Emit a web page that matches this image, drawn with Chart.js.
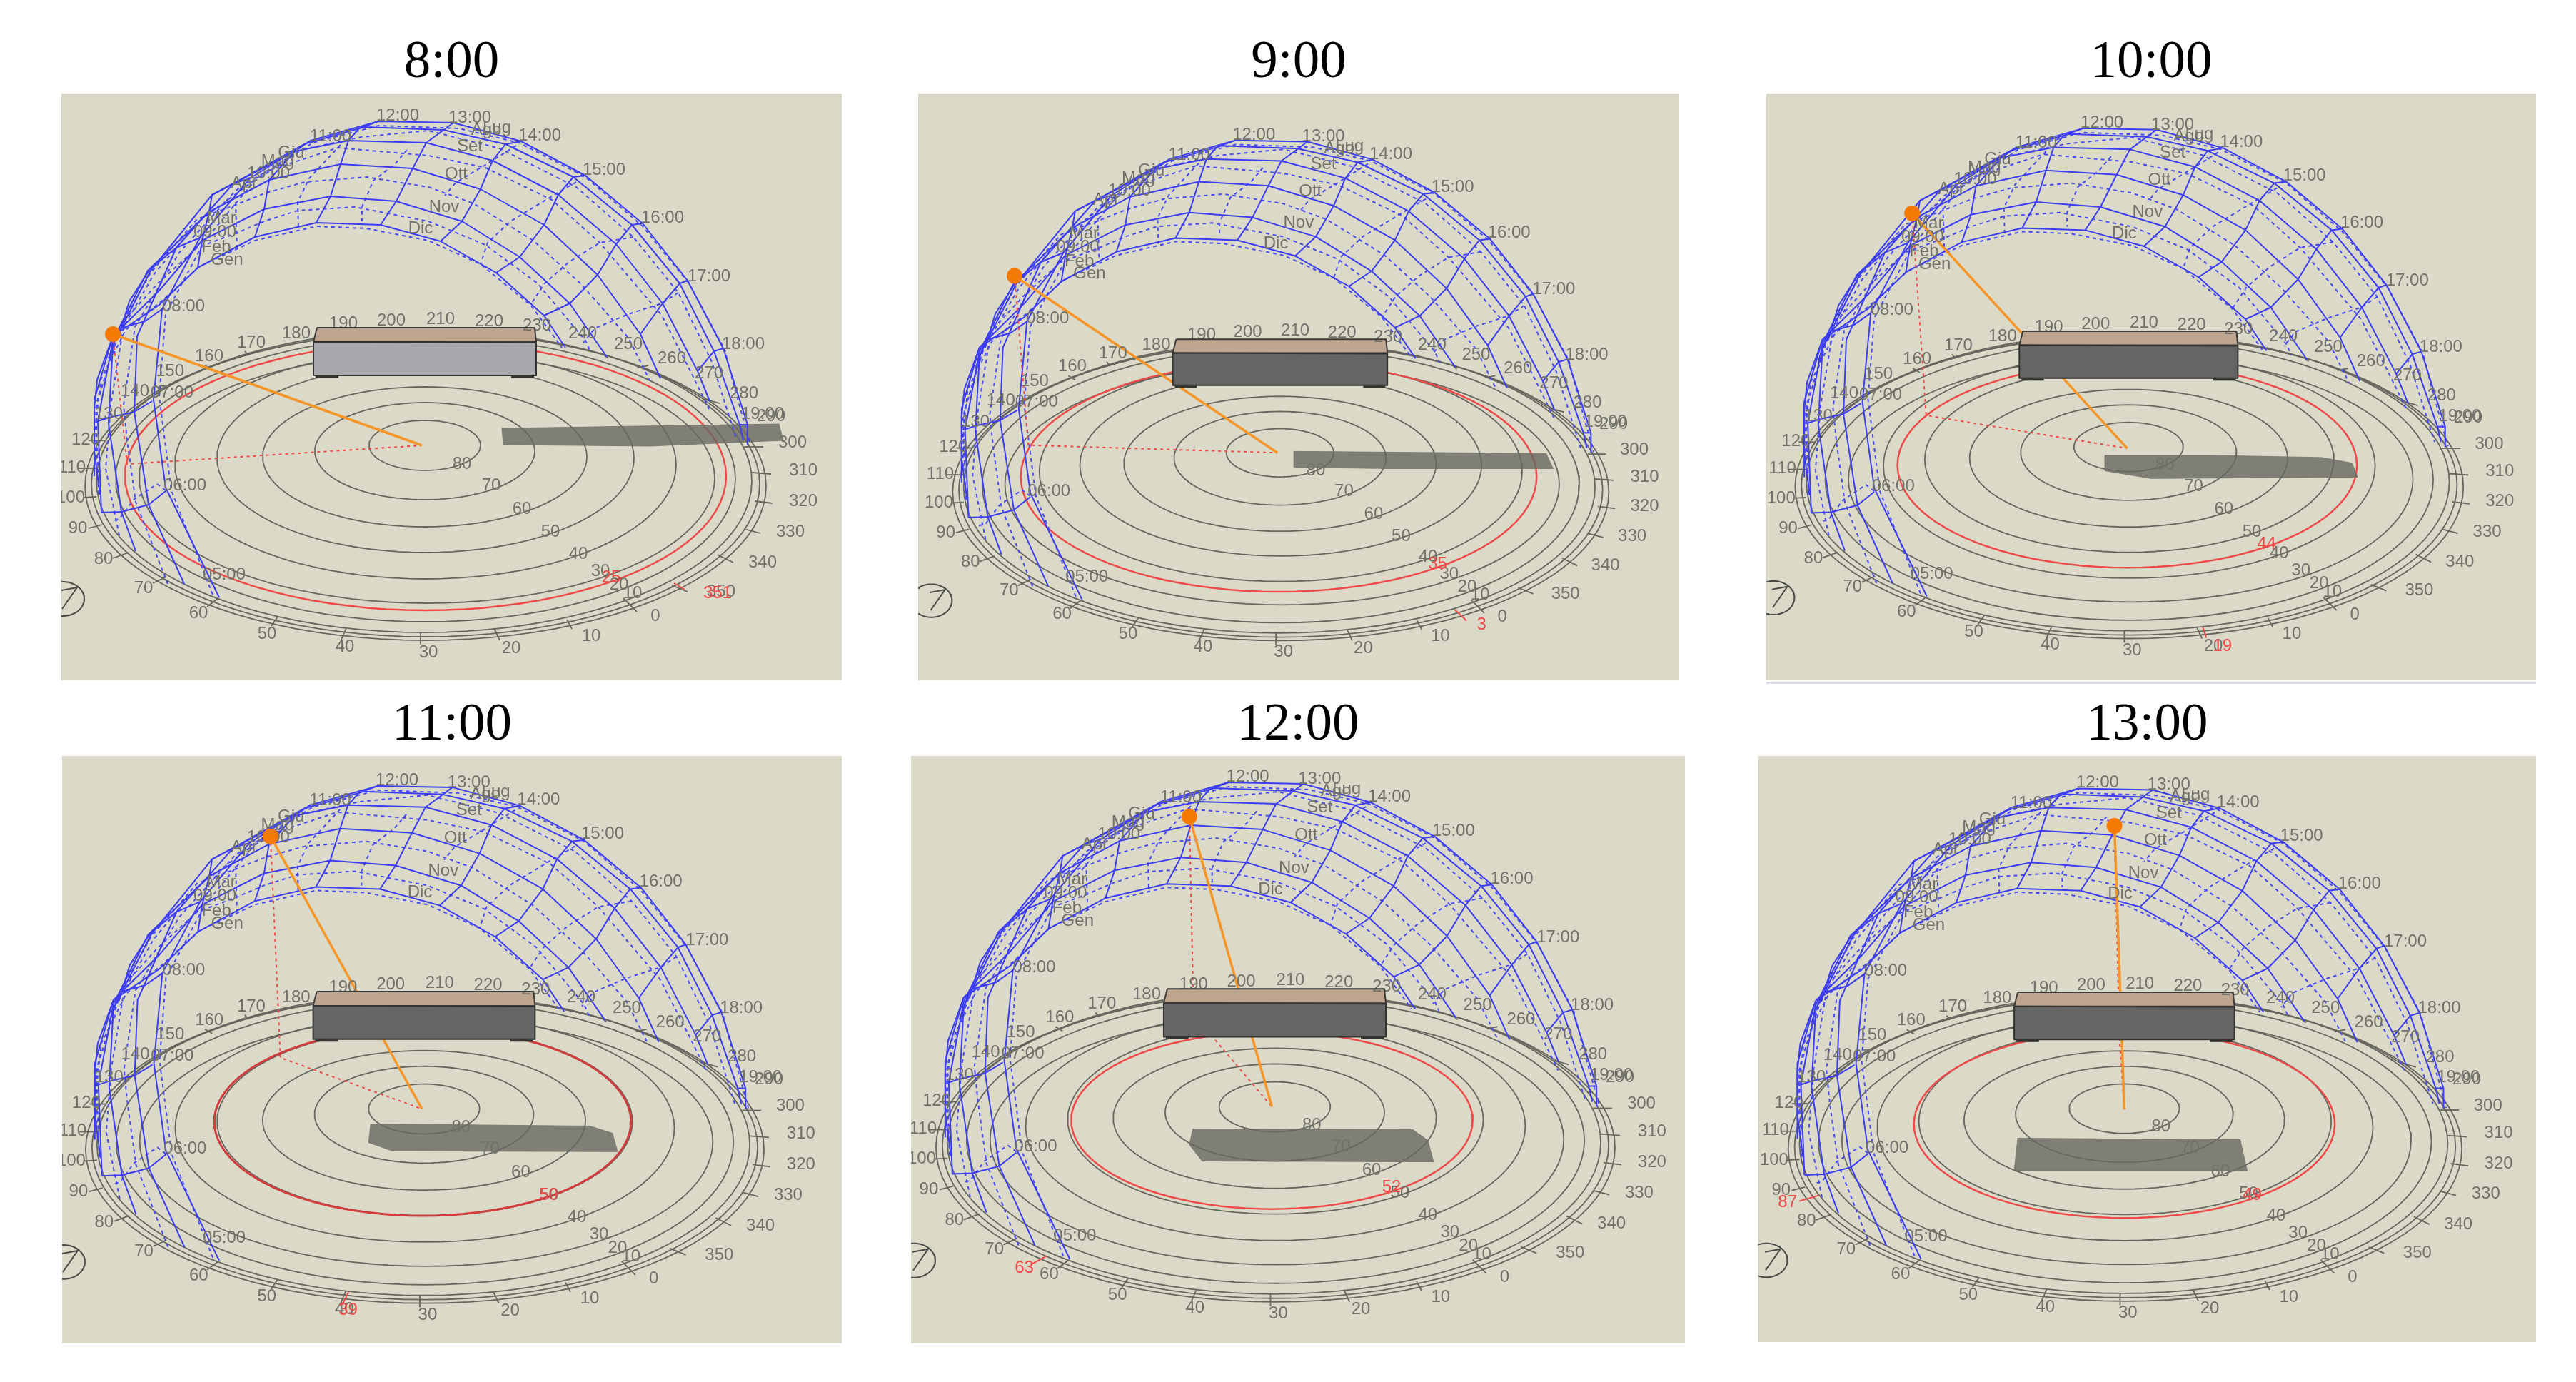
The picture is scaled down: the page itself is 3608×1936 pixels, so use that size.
<!DOCTYPE html>
<html>
<head>
<meta charset="utf-8">
<title>Sun path 8:00 - 13:00</title>
<script src="https://cdn.jsdelivr.net/npm/chart.js@4/dist/chart.umd.min.js"></script>
<style>
  html, body { margin: 0; padding: 0; background: #fff; }
  body { position: relative; width: 3608px; height: 1936px; overflow: hidden; }
  canvas { position: absolute; filter: blur(0.6px); }
  #edge { position: absolute; left: 2474px; top: 955px; width: 1078px; height: 3px; background: #dcdce2; }
</style>
</head>
<body>
<div id="edge"></div>
<script>
// one panel per hour
const hours = ['8:00', '9:00', '10:00', '11:00', '12:00', '13:00'];

const elevationLabels = ['25', '35', '44', '50', '52', '49'];
const azimuthLabels = ['351', '3', '19', '39', '63', '87'];

// sun, its foot on the ground and the shared centre, diagram units
const sunX = [72, 123, 200, 293, 389, 495];
const sunY = [336, 235, 159, 109, 86, 91];
const footX = [92, 143, 220, 307, 395, 502];
const footY = [518, 481, 447, 420, 363, 391];
const originX = [505, 505, 507, 506, 505, 509];
const originY = [492, 492, 494, 492, 492, 493];

// red circle of the current elevation
const redCx = [510, 507, 507, 507, 505, 509];
const redCy = [535, 527, 518, 510, 511, 514];
const redRx = [421, 375, 328, 293, 282, 298];
const redRy = [188, 167, 146, 132, 124, 133];

// where the red readings sit
const elevationLabelX = [770, 738, 706, 684, 673, 690];
const elevationLabelY = [677, 654, 631, 613, 605, 615];
const azimuthLabelX = [919, 802, 643, 402, 157, 32];
const azimuthLabelY = [699, 742, 776, 775, 718, 625];
const azimuthTickA = [[858, 685], [763, 720], [615, 749], [403, 749], [188, 701], [76, 615]];
const azimuthTickB = [[873, 694], [780, 736], [620, 764], [394, 767], [166, 713], [49, 623]];

// building shadow for each hour
const shadows = [
  [[617, 468], [1005, 462], [1011, 485], [824, 493], [619, 491]],
  [[529, 490], [896, 493], [906, 515], [664, 515], [529, 513]],
  [[475, 504], [627, 504], [785, 507], [828, 515], [836, 535], [541, 537], [475, 526]],
  [[434, 513], [742, 516], [774, 526], [781, 552], [464, 551], [431, 539]],
  [[394, 523], [703, 524], [724, 539], [732, 569], [407, 568], [389, 545]],
  [[358, 534], [673, 536], [683, 580], [353, 580]]
];

// building
const roof = [[358, 327], [663, 327], [665, 347], [353, 347]];
const front = [[353, 347], [665, 348], [665, 394], [353, 394]];
const buildingFeet = [[[356, 396], [388, 396]], [[630, 396], [662, 396]]];

// elevation circles on the ground
const ringLabels = ['80', '70', '60', '50', '40', '30', '20', '10'];
const ringLabelX = [561, 602, 645, 685, 724, 755, 781, 800];
const ringLabelY = [518, 548, 581, 613, 644, 668, 687, 699];
const ringCx = [509, 509, 509, 510, 510, 512, 510, 508, 510, 510];
const ringCy = [492, 500, 508, 510, 519, 538, 539, 542, 546, 549];
const ringRx = [78, 154, 227, 292, 351, 403, 434, 459, 468, 477];
const ringRy = [35, 68, 98, 132, 160, 175, 200, 212, 214, 216];

// azimuth scale round the rim
const azimuths = [0, 10, 20, 30, 40, 50, 60, 70, 80, 90, 100, 110, 120, 130, 140, 150, 160, 170,
  180, 190, 200, 210, 220, 230, 240, 250, 260, 270, 280, 290, 300, 310, 320, 330, 340, 350];
const azimuthX = [832, 742, 630, 514, 397, 288, 192, 115, 59, 23, 13, 15, 34, 66, 103, 152, 207, 266,
  329, 395, 462, 531, 599, 666, 730, 794, 855, 907, 956, 994, 1024, 1039, 1039, 1021, 982, 924];
const azimuthY = [731, 759, 776, 782, 774, 756, 727, 692, 651, 608, 565, 523, 484, 448, 416, 388, 367, 348,
  335, 321, 317, 315, 318, 324, 335, 350, 370, 391, 419, 451, 488, 527, 570, 613, 656, 697];
const rimTicks = [
  [[787, 706], [806, 725]], [[708, 736], [715, 749]], [[606, 748], [614, 765]], [[503, 754], [503, 770]],
  [[399, 748], [392, 764]], [[303, 732], [294, 745]], [[220, 706], [204, 718]], [[147, 676], [128, 685]],
  [[94, 642], [72, 650]], [[57, 603], [38, 608]], [[49, 564], [30, 565]], [[49, 524], [23, 524]],
  [[61, 485], [38, 485]], [[956, 494], [983, 494]], [[967, 530], [994, 532]], [[971, 570], [996, 573]],
  [[956, 609], [979, 615]], [[919, 645], [941, 656]], [[855, 688], [877, 697]],
  [[154, 406], [164, 400]], [[201, 380], [211, 386]], [[257, 360], [262, 366]],
  [[761, 366], [766, 370]], [[807, 383], [822, 380]], [[900, 427], [922, 433]]
];

// sun path, month curves (solid)
const monthCurves = [
  [[221, 705], [146, 551], [129, 428], [141, 301], [194, 201], [264, 118], [349, 65], [444, 38], [549, 40], [644, 66], [734, 114], [814, 181], [877, 261], [927, 356], [961, 463], [961, 491]],
  [[172, 686], [122, 575], [102, 445], [106, 339], [161, 215], [241, 125], [340, 70], [424, 46], [535, 50], [622, 70], [717, 116], [799, 183], [866, 265], [914, 360], [950, 463], [955, 485]],
  [[104, 640], [84, 585], [66, 461], [72, 351], [125, 247], [211, 141], [327, 80], [402, 65], [511, 68], [604, 93], [696, 141], [777, 210], [842, 293], [891, 388], [908, 430]],
  [[56, 586], [51, 458], [72, 345], [121, 247], [207, 165], [291, 120], [391, 98], [492, 104], [587, 133], [676, 183], [751, 253], [811, 336], [839, 398]],
  [[54, 561], [46, 500], [46, 428], [72, 339], [137, 275], [197, 205], [284, 161], [377, 143], [469, 150], [561, 178], [642, 228], [712, 293], [764, 368]],
  [[46, 535], [46, 440], [50, 400], [72, 339], [137, 295], [191, 243], [271, 200], [357, 180], [447, 183], [531, 206], [609, 250], [676, 310], [706, 355]]
];

// sun path, hour lines (solid)
const hourCurves = [
  [[146, 556], [122, 575], [84, 585], [56, 586]],
  [[127, 430], [102, 445], [66, 453], [51, 458]],
  [[141, 301], [117, 318], [81, 328], [66, 370]],
  [[194, 201], [161, 215], [124, 245], [95, 290], [80, 340]],
  [[264, 118], [241, 125], [211, 141], [207, 165], [197, 205], [191, 243]],
  [[349, 65], [327, 80], [291, 120], [284, 161], [271, 200]],
  [[444, 38], [417, 48], [402, 65], [391, 98], [377, 143], [357, 180]],
  [[549, 40], [511, 68], [492, 104], [469, 150], [447, 183]],
  [[644, 66], [622, 70], [604, 93], [587, 133], [561, 178], [531, 206]],
  [[734, 114], [717, 116], [696, 141], [676, 183], [642, 228], [609, 250]],
  [[814, 181], [799, 183], [777, 210], [751, 253], [712, 293], [676, 310]],
  [[877, 261], [866, 265], [842, 293], [811, 336]],
  [[927, 356], [914, 360], [891, 388]],
  [[961, 463], [950, 463]]
];

// second half of the year (dotted)
const dottedMonths = [
  [[212, 701], [154, 555], [137, 424], [146, 308], [201, 205], [270, 122], [352, 68], [444, 44], [557, 48], [641, 68], [734, 116], [814, 185], [879, 265], [929, 358], [941, 405], [965, 491]],
  [[149, 686], [104, 571], [92, 485], [87, 436], [103, 326], [165, 222], [244, 135], [335, 78], [420, 60], [514, 51], [614, 76], [721, 130], [801, 200], [864, 278], [911, 375], [946, 485]],
  [[81, 618], [62, 525], [69, 436], [87, 326], [129, 253], [190, 180], [287, 108], [387, 75], [514, 86], [594, 103], [687, 148], [754, 208], [841, 310], [881, 388], [907, 441]],
  [[52, 560], [48, 440], [80, 330], [125, 250], [190, 175], [244, 155], [287, 138], [341, 123], [427, 116], [514, 130], [577, 153], [661, 205], [727, 265], [794, 341], [824, 401]],
  [[48, 500], [50, 430], [85, 320], [135, 265], [190, 215], [244, 195], [284, 178], [331, 163], [411, 158], [514, 178], [594, 211], [667, 265], [734, 345], [741, 361]],
  [[46, 480], [55, 400], [90, 330], [140, 290], [194, 241], [271, 205], [357, 185], [427, 188], [514, 205], [587, 238], [657, 295], [691, 341], [701, 355]]
];
const dottedHours = [
  [[146, 555], [134, 546], [101, 568], [81, 595], [71, 598]],
  [[244, 151], [246, 215]],
  [[391, 71], [347, 118], [331, 151], [332, 188]],
  [[484, 78], [467, 98], [437, 121], [421, 158], [421, 178]],
  [[637, 72], [594, 99], [552, 124], [537, 142]],
  [[721, 123], [687, 143], [629, 178], [597, 208], [587, 238]],
  [[801, 200], [754, 208], [711, 235], [677, 265], [657, 295]],
  [[864, 278], [841, 293], [794, 308], [747, 328], [731, 348]]
];

// labels on the dome
const clockLabels = ['05:00', '06:00', '07:00', '08:00', '09:00', '10:00', '11:00', '12:00', '13:00', '14:00', '15:00', '16:00', '17:00', '18:00', '19:00'];
const clockX = [228, 173, 155, 171, 215, 290, 377, 471, 572, 670, 760, 842, 907, 955, 982];
const clockY = [673, 548, 418, 297, 193, 111, 59, 30, 33, 58, 106, 173, 255, 350, 448];
const monthLabels = ['Gen', 'Feb', 'Mar', 'Apr', 'Mag', 'Giu', 'Lug', 'Ago', 'Set', 'Ott', 'Nov', 'Dic'];
const monthX = [232, 217, 224, 256, 303, 322, 610, 595, 572, 553, 536, 503];
const monthY = [232, 214, 174, 125, 94, 82, 47, 50, 73, 112, 158, 188];

// compass on the lower left
const compassCentre = [2, 707];
const compassRadius = [30, 24];
const compassArrow = [[0, 695], [22, 691], [1, 721]];

// page layout
const panelLeft = [86, 1286, 2474, 87, 1276, 2462];
const panelRight = [1179, 2352, 3552, 1179, 2360, 3552];
const panelTop = [131, 131, 131, 1059, 1059, 1059];
const panelBottom = [953, 953, 953, 1882, 1882, 1880];
const titleHeight = 100;

// diagram units to page pixels, every panel was shot at its own zoom
const zoomX = [1, 0.9634, 0.981, 0.996, 0.997, 0.989];
const zoomY = [1, 0.964, 0.983, 0.997, 1.001, 0.988];
const shiftX = [86, 1302.5, 2482, 87, 1278, 2472];
const shiftY = [132, 160, 142.5, 1063, 1058, 1067];

const BLUE = '#3c3cf0';
const BLUE_DOT = '#4a4af2';
const RING = '#66665f';
const RED = '#ee4a4a';
const TEXT = '#72726b';
const ORANGE = '#f5962a';

const stepsAround = 96;
function ellipse(cx, cy, rx, ry) {
  const pts = [];
  for (let i = 0; i <= stepsAround; i++) {
    const a = i / stepsAround * Math.PI * 2;
    pts.push([cx + rx * Math.cos(a), cy + ry * Math.sin(a)]);
  }
  return pts;
}

function line(points, color, width, dash, fillColor) {
  return {
    data: points.map(p => ({ x: p[0], y: p[1] })),
    showLine: true,
    pointRadius: 0,
    borderColor: color,
    borderWidth: width,
    borderDash: dash || [],
    borderJoinStyle: 'round',
    backgroundColor: fillColor || 'transparent',
    fill: fillColor ? 'shape' : false
  };
}

function buildDatasets(p) {
  const sets = [];
  ringCx.forEach((cx, i) => sets.push(line(ellipse(cx, ringCy[i], ringRx[i], ringRy[i]), RING, 1.8)));
  rimTicks.forEach(t => sets.push(line(t, RING, 1.8)));
  sets.push(line(ellipse(compassCentre[0], compassCentre[1], compassRadius[0], compassRadius[1]), '#4a4a46', 2));
  sets.push(line(compassArrow, '#4a4a46', 2));
  sets.push(line(ellipse(redCx[p], redCy[p], redRx[p], redRy[p]), p === 3 ? '#d23c3c' : RED, p === 3 ? 3 : 2.5));
  sets.push(line([azimuthTickA[p], azimuthTickB[p]], RED, 2));
  sets.push(line(shadows[p].concat([shadows[p][0]]), 'rgba(112,112,102,0.8)', 1, [], 'rgba(104,104,96,0.8)'));
  dottedMonths.forEach(c => sets.push(line(c, BLUE_DOT, 2, [5, 5])));
  dottedHours.forEach(c => sets.push(line(c, BLUE_DOT, 2, [5, 5])));
  monthCurves.forEach(c => sets.push(line(c, BLUE, 2)));
  hourCurves.forEach(c => sets.push(line(c, BLUE, 2)));
  const foot = [footX[p], footY[p]];
  const origin = [originX[p], originY[p]];
  const sun = [sunX[p], sunY[p]];
  sets.push(line([sun, foot, origin], RED, 2, [4, 5]));
  sets.push(line([sun, origin], ORANGE, 3.5));
  buildingFeet.forEach(f => sets.push(line(f, '#33332f', 3)));
  sets.push(line(roof.concat([roof[0]]), '#3c3c3a', 2, [], '#bea58f'));
  sets.push(line(front.concat([front[0]]), '#333331', 2, [], p === 0 ? '#a9a9ad' : '#656566'));
  sets.push({
    data: [{ x: sun[0], y: sun[1] }],
    pointRadius: 11,
    pointBackgroundColor: '#f57a05',
    pointBorderWidth: 0,
    showLine: false
  });
  // later entries are painted later
  sets.forEach((s, i) => { s.order = sets.length - i; });
  return sets;
}

function drawText(chart, p) {
  const c = chart.ctx;
  const sx = chart.scales.x, sy = chart.scales.y;
  const put = (str, x, y, color, size) => {
    c.fillStyle = color;
    c.font = size + 'px "Liberation Sans", Arial, sans-serif';
    c.fillText(str, sx.getPixelForValue(x), sy.getPixelForValue(y));
  };
  c.save();
  c.textAlign = 'center';
  c.textBaseline = 'middle';
  azimuths.forEach((a, i) => put(String(a), azimuthX[i], azimuthY[i], TEXT, 24));
  ringLabels.forEach((l, i) => put(l, ringLabelX[i], ringLabelY[i], TEXT, 24));
  clockLabels.forEach((l, i) => put(l, clockX[i], clockY[i], TEXT, 24));
  monthLabels.forEach((l, i) => put(l, monthX[i], monthY[i], TEXT, 24));
  put(elevationLabels[p], elevationLabelX[p], elevationLabelY[p], RED, 24);
  put(azimuthLabels[p], azimuthLabelX[p], azimuthLabelY[p], RED, 24);
  c.restore();
}

hours.forEach((hour, p) => {
  const canvas = document.createElement('canvas');
  const w = panelRight[p] - panelLeft[p];
  const h = panelBottom[p] - panelTop[p] + titleHeight;
  canvas.width = w;
  canvas.height = h;
  canvas.style.left = panelLeft[p] + 'px';
  canvas.style.top = (panelTop[p] - titleHeight) + 'px';
  canvas.style.width = w + 'px';
  canvas.style.height = h + 'px';
  document.body.appendChild(canvas);

  const sets = buildDatasets(p);
  const roofIndex = sets.length - 3;

  new Chart(canvas.getContext('2d'), {
    type: 'scatter',
    data: { datasets: sets },
    options: {
      responsive: false,
      animation: false,
      devicePixelRatio: 1,
      layout: { padding: 0, autoPadding: false },
      scales: {
        x: {
          type: 'linear',
          display: false,
          min: (panelLeft[p] - shiftX[p]) / zoomX[p],
          max: (panelRight[p] - shiftX[p]) / zoomX[p]
        },
        y: {
          type: 'linear',
          display: false,
          reverse: true,
          min: (panelTop[p] - shiftY[p]) / zoomY[p],
          max: (panelBottom[p] - shiftY[p]) / zoomY[p]
        }
      },
      plugins: {
        legend: { display: false },
        tooltip: { enabled: false },
        title: {
          display: true,
          text: hour,
          color: '#000',
          font: { family: '"Liberation Serif", serif', size: 75, weight: 'normal', lineHeight: '86px' },
          padding: { top: 14, bottom: 0 }
        }
      }
    },
    plugins: [{
      id: 'panelPaint',
      beforeDatasetsDraw(chart) {
        const a = chart.chartArea;
        chart.ctx.save();
        chart.ctx.fillStyle = '#dbdac8';
        chart.ctx.fillRect(a.left, a.top, a.right - a.left, a.bottom - a.top);
        chart.ctx.restore();
      },
      beforeDatasetDraw(chart, args) {
        // labels go under the building, as in the picture
        if (args.index === roofIndex) drawText(chart, p);
      }
    }]
  });
});
</script>
</body>
</html>
